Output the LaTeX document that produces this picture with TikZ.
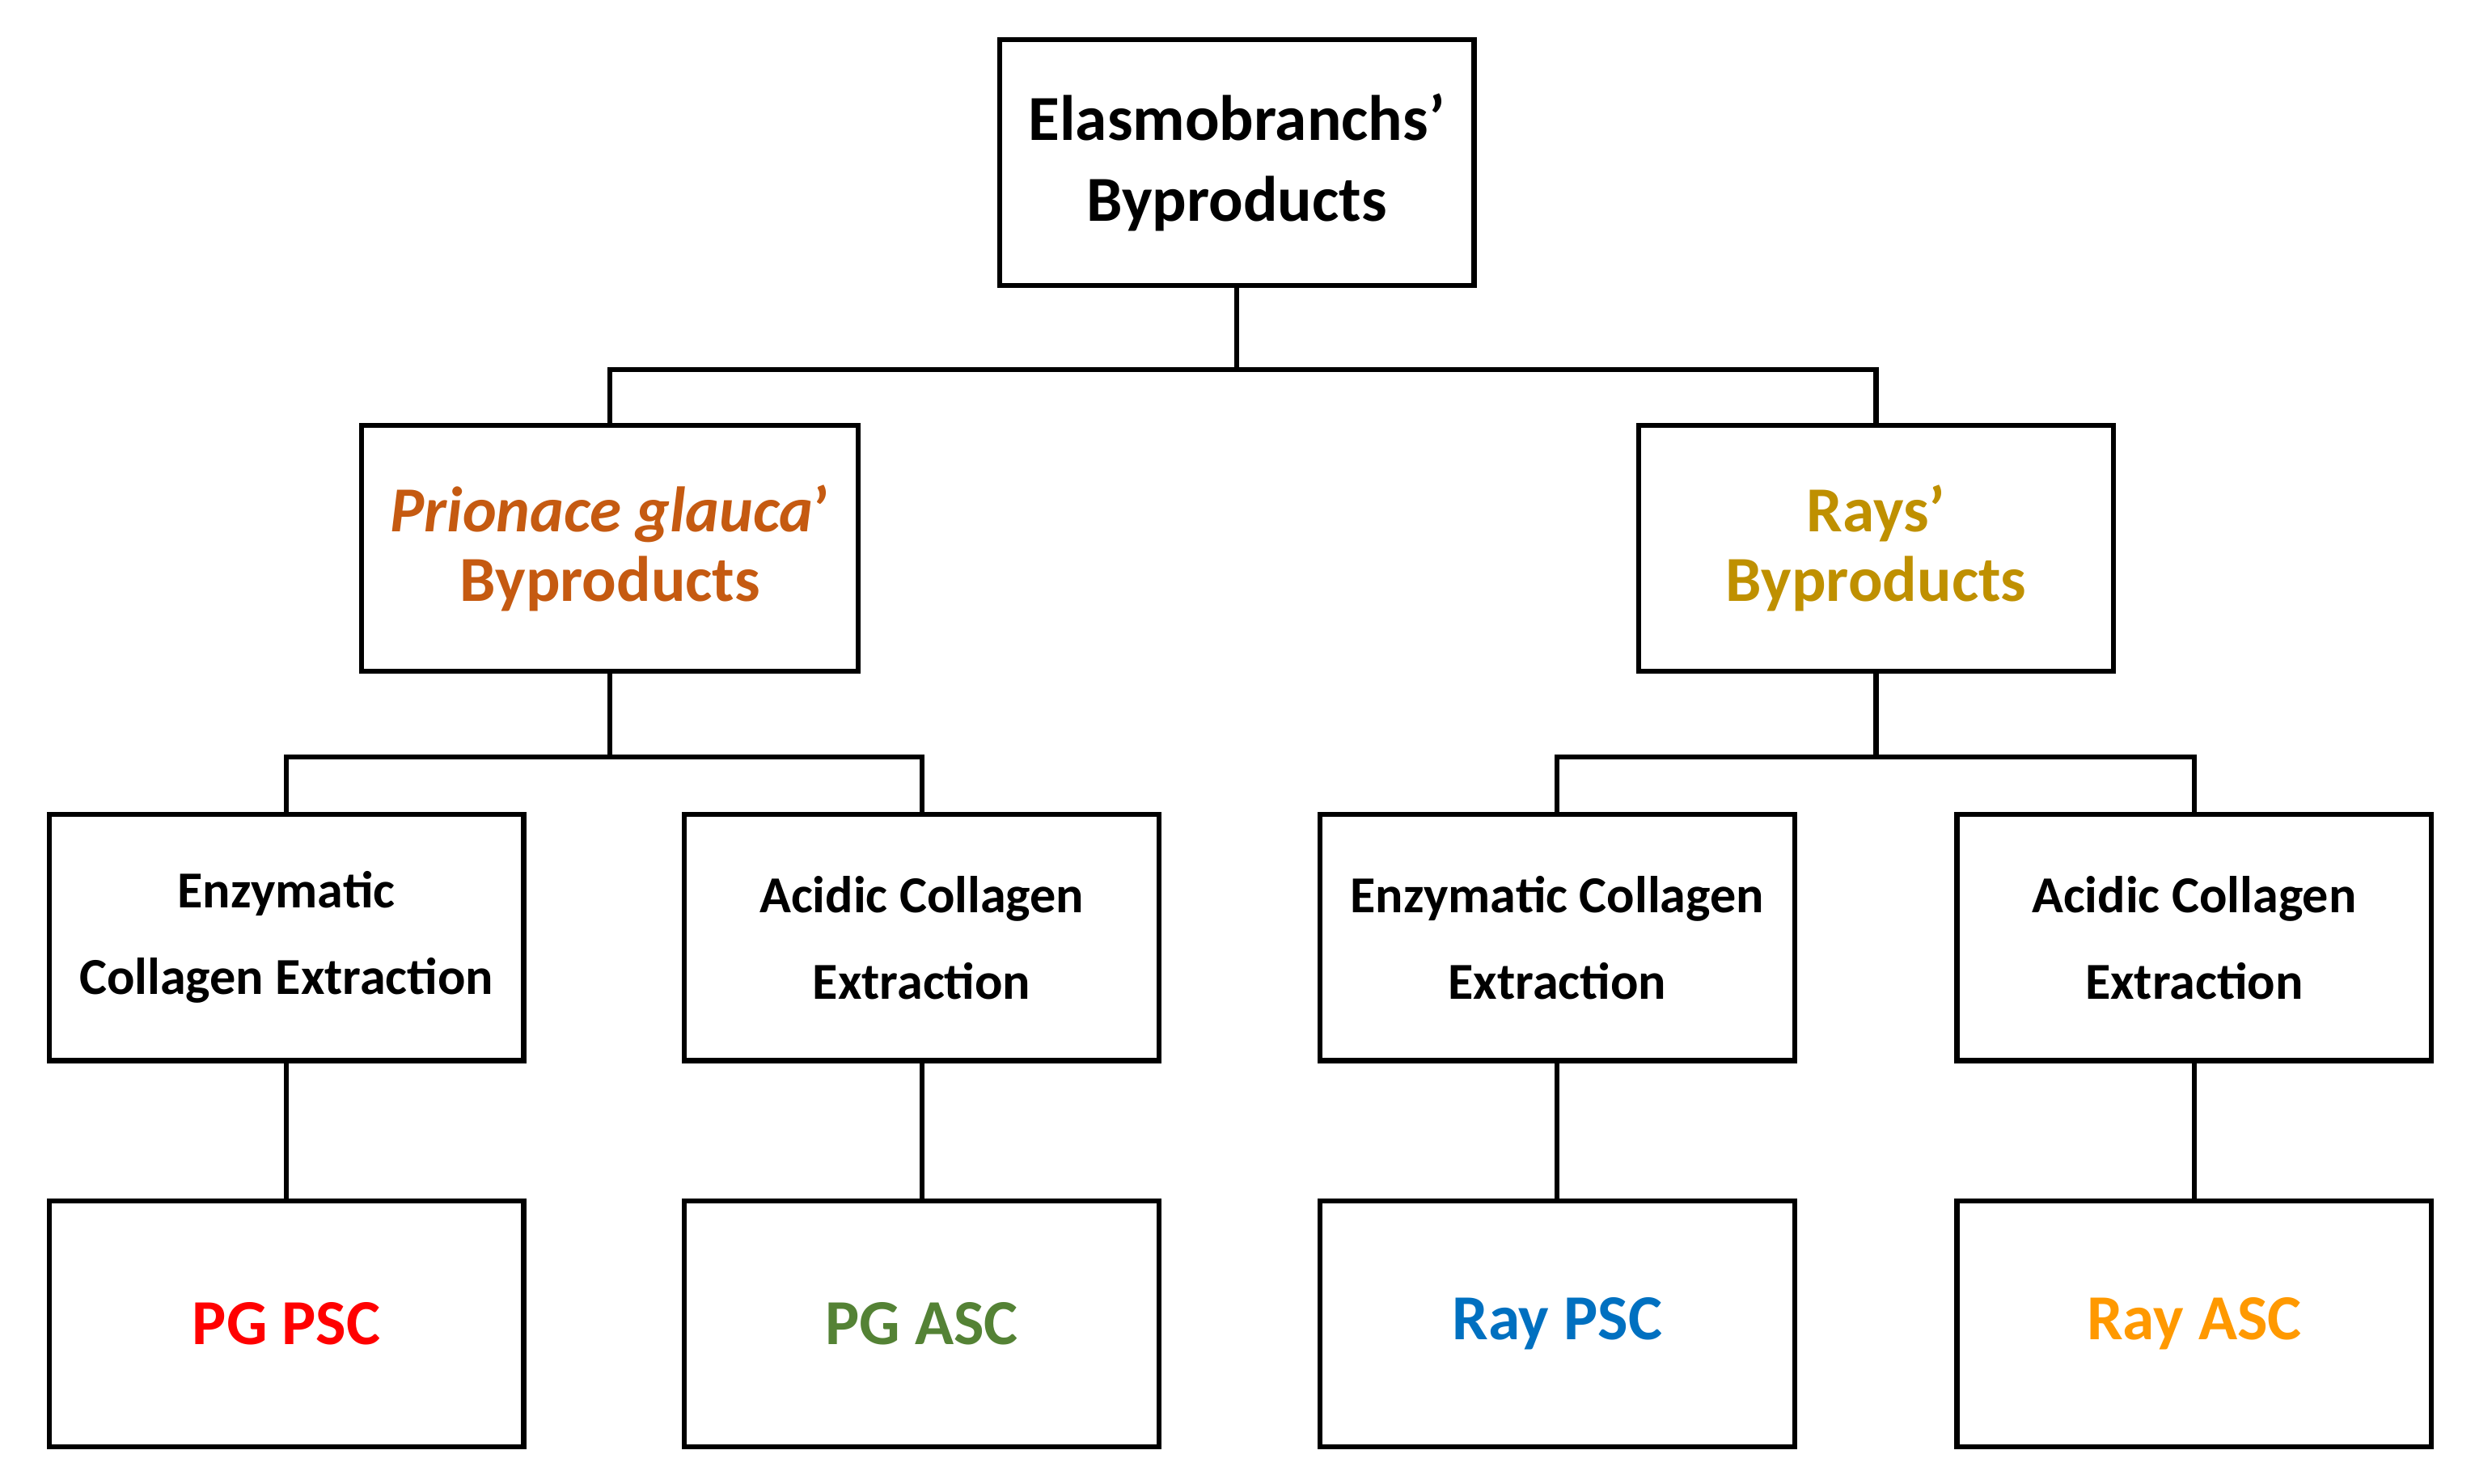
\documentclass[tikz,border=0pt]{standalone}
\usepackage{fontspec}
\setmainfont{Carlito}
\definecolor{pgorange}{HTML}{C55A11}
\definecolor{raygold}{HTML}{BF9000}
\definecolor{pggreen}{HTML}{548235}
\definecolor{rayblue}{HTML}{0070C0}
\definecolor{rayorange}{HTML}{FF9900}
\begin{document}
\begin{tikzpicture}[x=0.01cm,y=-0.01cm, font=\bfseries, line width=0.9pt]
		\tikzset{
			box/.style={draw, rectangle, align=center, inner sep=0pt, minimum height=1.55cm},
			top/.style={box, minimum width=2.99cm, font=\fontsize{11.5}{14.5}\selectfont\bfseries},
			mid/.style={box, minimum width=#1, font=\fontsize{11.5}{12.5}\selectfont\bfseries},
			ext/.style={box, minimum width=2.99cm, font=\fontsize{9.3}{15.5}\selectfont\bfseries},
			res/.style={box, minimum width=2.99cm, text=#1, font=\fontsize{11.5}{12}\selectfont\bfseries},
		}
		\useasboundingbox (0,0) rectangle (1560,935);

		\node[top] (elasmo) at (779.5,102.5) {Elasmobranchs'\\Byproducts};
		\node[mid=3.13cm, text=pgorange] (pg) at (384.5,345.5) {\textit{Prionace glauca}'\\Byproducts};
		\node[mid=2.99cm, text=raygold] (rays) at (1182.5,345.5) {Rays'\\Byproducts};

		\node[ext] (pgenz) at (180.5,591) {Enzymatic\\Collagen Extraction};
		\node[ext] (pgacid) at (581,591) {Acidic Collagen\\Extraction};
		\node[ext] (rayenz) at (981.5,591) {Enzymatic Collagen\\Extraction};
		\node[ext] (rayacid) at (1383,591) {Acidic Collagen\\Extraction};

		\node[res=red] (pgpsc) at (180.5,834.5) {PG PSC};
		\node[res=pggreen] (pgasc) at (581,834.5) {PG ASC};
		\node[res=rayblue] (raypsc) at (981.5,834.5) {Ray PSC};
		\node[res=rayorange] (rayasc) at (1383,834.5) {Ray ASC};

		\coordinate (busa) at (779.5,233);
		\coordinate (busb) at (384.5,477);
		\coordinate (busc) at (1182.5,477);

		\draw (elasmo.south) -- (busa);
		\draw (pg.north) |- (busa) -| (rays.north);
		\draw (pg.south) -- (busb);
		\draw (pgenz.north) |- (busb) -| (pgacid.north);
		\draw (rays.south) -- (busc);
		\draw (rayenz.north) |- (busc) -| (rayacid.north);

		\foreach \a/\b in {pgenz/pgpsc, pgacid/pgasc, rayenz/raypsc, rayacid/rayasc}{
			\draw (\a.south) -- (\b.north);
		}
\end{tikzpicture}
\end{document}
